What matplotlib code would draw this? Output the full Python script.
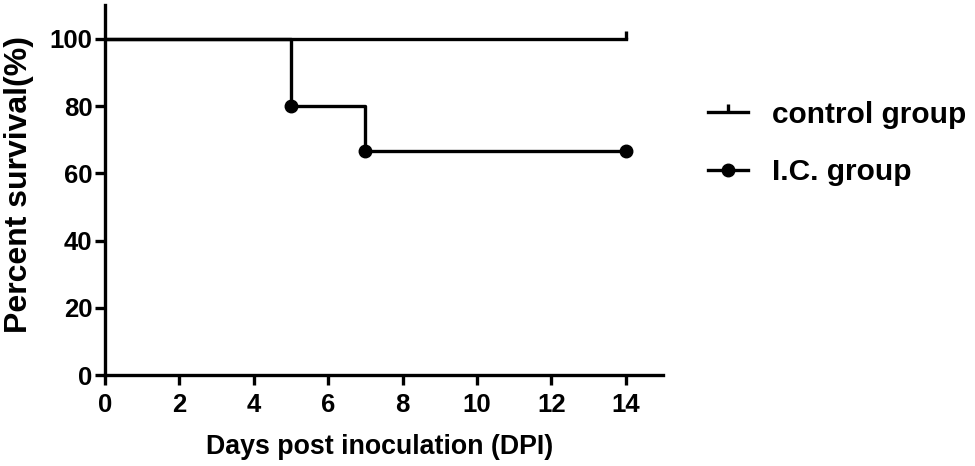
import numpy as np
import matplotlib.pyplot as plt
from matplotlib.lines import Line2D
from matplotlib.path import Path

plt.rcParams['font.family'] = ['Liberation Sans', 'DejaVu Sans']
plt.rcParams['font.weight'] = 'bold'

# Kaplan-Meier data
control_days = [0, 14]
control_surv = [100, 100]
ic_days = [0, 5, 7, 14]
ic_surv = [100, 80, 66.67, 66.67]
ic_event_days = [5, 7, 14]
ic_event_surv = [80, 66.67, 66.67]

xticks = [0, 2, 4, 6, 8, 10, 12, 14]
yticks = [0, 20, 40, 60, 80, 100]

# censor tick: short vertical line going up from the point
up_tick = Path([(0, 0), (0, 1)], [Path.MOVETO, Path.LINETO])

fig = plt.figure(figsize=(9.75, 4.66), dpi=100)
ax = fig.add_axes([0.1077, 0.195, 0.5723, 0.794])

lw = 2.4
ax.step(control_days, control_surv, where='post', color='black', lw=lw)
ax.plot([control_days[-1]], [control_surv[-1]], marker=up_tick, ms=12,
        mew=lw, color='black', ls='none')
ax.step(ic_days, ic_surv, where='post', color='black', lw=lw)
ax.plot(ic_event_days, ic_event_surv, 'o', color='black', ms=9)

ax.set_xlim(0, 15)
ax.set_ylim(0, 110)
ax.set_xticks(xticks)
ax.set_yticks(yticks)
ax.spines['top'].set_visible(False)
ax.spines['right'].set_visible(False)
for s in ['left', 'bottom']:
    ax.spines[s].set_linewidth(2.4)
ax.tick_params(width=2.4, length=7, labelsize=18.5)
ax.tick_params(axis='x', pad=6)
ax.tick_params(axis='y', pad=2)
for lab in ax.get_xticklabels() + ax.get_yticklabels():
    lab.set_fontweight('bold')

ax.set_xlabel('Days post inoculation (DPI)', fontsize=19.3, fontweight='bold', va='center')
ax.xaxis.set_label_coords(0.493, -0.195)
ax.set_ylabel('Percent survival(%)', fontsize=23, fontweight='bold', va='center')
ax.yaxis.set_label_coords(-0.155, 0.514)

handles = [
    Line2D([0], [0], color='black', lw=lw, marker=up_tick, ms=12, mew=lw),
    Line2D([0], [0], color='black', lw=lw, marker='o', ms=9),
]
fig.legend(handles, ['control group', 'I.C. group'], loc='center left',
           bbox_to_anchor=(0.714, 0.692), frameon=False, borderaxespad=0,
           handlelength=1.34, handletextpad=0.8, labelspacing=1.0,
           prop={'weight': 'bold', 'size': 21.5})

fig.savefig('out.png', dpi=100)
